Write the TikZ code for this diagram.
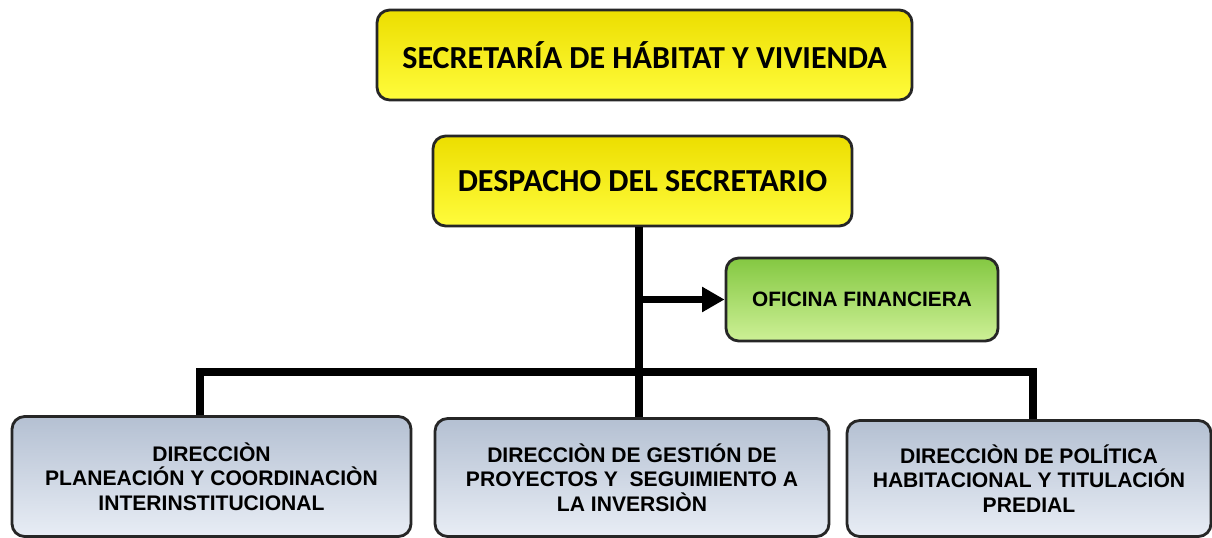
\documentclass[tikz,border=0pt]{standalone}
\usepackage{fontspec}
\usepackage{xcolor}
\usepackage{tikz}
\usetikzlibrary{arrows.meta, positioning, calc}
\setmainfont{Liberation Sans}
\newfontfamily\calib{Carlito}
\definecolor{boxyellow}{RGB}{236, 222, 0}
\definecolor{boxyellowlt}{RGB}{255, 252, 60}
\definecolor{boxgray}{RGB}{180, 192, 210}
\definecolor{boxgraylt}{RGB}{232, 237, 245}
\definecolor{boxgreen}{RGB}{132, 200, 66}
\definecolor{boxgreenlt}{RGB}{205, 240, 150}

\tikzset{
    unitbox/.style={draw=black!85, line width=2pt, rounded corners=9pt, align=center, inner sep=0pt},
    headbox/.style={unitbox, top color=boxyellow, bottom color=boxyellowlt, font=\calib\bfseries\fontsize{22.8}{27}\selectfont},
    officebox/.style={unitbox, top color=boxgreen, bottom color=boxgreenlt, font=\bfseries\fontsize{14.8}{17}\selectfont},
    dirbox/.style={unitbox, top color=boxgray, bottom color=boxgraylt, font=\bfseries\fontsize{15}{17.4}\selectfont},
    link/.style={line width=5pt, black}
}

\begin{document}
\begin{tikzpicture}[x=0.025cm, y=-0.025cm, >=Stealth]
    \useasboundingbox (0,0) rectangle (1212,538);

    % Top levels
    \node[headbox, minimum width=535*0.025cm, minimum height=90*0.025cm] (secre) at (644.5,55) {SECRETARÍA DE HÁBITAT Y VIVIENDA};
    \node[headbox, minimum width=419*0.025cm, minimum height=90*0.025cm] (desp) at (642.5,181) {DESPACHO DEL SECRETARIO};

    % Staff office
    \node[officebox, minimum width=272*0.025cm, minimum height=83*0.025cm] (ofic) at (862,299.5) {OFICINA FINANCIERA};

    % Directorates
    \node[dirbox, minimum width=399*0.025cm, minimum height=120*0.025cm] (dirA) at (211.5,476.5) {DIRECCIÒN\\PLANEACIÓN Y COORDINACIÒN\\INTERINSTITUCIONAL};
    \node[dirbox, minimum width=394*0.025cm, minimum height=118*0.025cm] (dirB) at (632,477.5) {DIRECCIÒN DE GESTIÓN DE\\PROYECTOS Y \ SEGUIMIENTO A\\LA INVERSIÒN};
    \node[dirbox, minimum width=364*0.025cm, minimum height=116*0.025cm] (dirC) at (1029,478.5) {DIRECCIÒN DE POLÍTICA\\HABITACIONAL Y TITULACIÓN\\PREDIAL};

    % Connectors
    \coordinate (spine) at (639,0);
    \coordinate (bus) at (0,372);
    \coordinate (dropA) at (200,0);
    \coordinate (dropC) at (1033,0);
    \draw[link] (desp.south -| spine) -- (dirB.north -| spine);
    \draw[link, -{Triangle[length=16pt, width=17pt]}] (spine |- ofic.west) -- (ofic.west);
    \draw[link] (dirA.north -| dropA) -- (dropA |- bus) -- (dropC |- bus) -- (dirC.north -| dropC);
\end{tikzpicture}
\end{document}
